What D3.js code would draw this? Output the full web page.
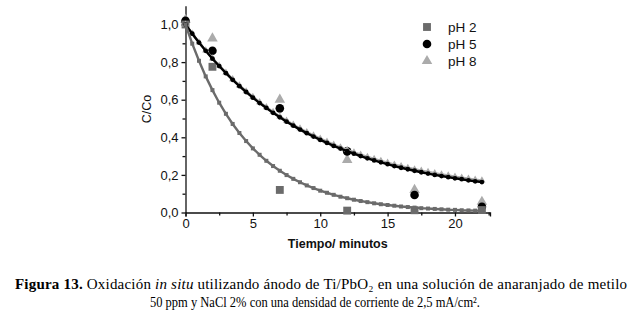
<!DOCTYPE html>
<html>
<head>
<meta charset="utf-8">
<script src="https://cdn.jsdelivr.net/npm/d3@7"></script>
<style>
  body { margin: 0; background: #fff; }
  svg { display: block; }
  .axis text { font-family: "Liberation Sans", Arial, sans-serif; font-size: 13px; fill: #111; }
  .axis path, .axis line { stroke: #111; stroke-width: 1.3; }
  .cap { font-family: "Liberation Serif", "Times New Roman", serif; font-size: 15px; fill: #000; }
</style>
</head>
<body>
<div id="chart"></div>
<script>
// measured points (C/Co vs time in minutes)
const times = [0, 2, 7, 12, 17, 22]
const ph2 = [1.00, 0.775, 0.12, 0.01, 0.012, 0.013]
const ph5 = [1.02, 0.86, 0.554, 0.325, 0.093, 0.031]
const ph8 = [1.025, 0.926, 0.60, 0.28, 0.12, 0.057]

// fitted curves, read every half minute
const fitTimes = d3.range(0, 22.01, 0.5)
const fit2 = [1.000, 0.898, 0.807, 0.724, 0.651, 0.584, 0.525, 0.471, 0.423, 0.380,
    0.341, 0.307, 0.275, 0.247, 0.222, 0.199, 0.179, 0.161, 0.144, 0.130,
    0.116, 0.105, 0.094, 0.084, 0.076, 0.068, 0.061, 0.055, 0.049, 0.044,
    0.040, 0.036, 0.032, 0.029, 0.026, 0.023, 0.021, 0.019, 0.017, 0.015,
    0.014, 0.012, 0.011, 0.010, 0.009]
const fit5 = [1.000, 0.951, 0.904, 0.860, 0.818, 0.779, 0.741, 0.706, 0.672, 0.641,
    0.611, 0.582, 0.556, 0.530, 0.506, 0.483, 0.462, 0.441, 0.422, 0.404,
    0.386, 0.370, 0.354, 0.340, 0.326, 0.313, 0.300, 0.288, 0.277, 0.267,
    0.257, 0.247, 0.238, 0.230, 0.222, 0.214, 0.207, 0.200, 0.194, 0.188,
    0.182, 0.177, 0.171, 0.166, 0.162]
const fit8 = [1.000, 0.951, 0.905, 0.862, 0.820, 0.781, 0.744, 0.709, 0.676, 0.645,
    0.615, 0.587, 0.560, 0.535, 0.511, 0.489, 0.467, 0.447, 0.428, 0.410,
    0.393, 0.377, 0.361, 0.347, 0.333, 0.320, 0.308, 0.296, 0.285, 0.275,
    0.265, 0.255, 0.247, 0.238, 0.230, 0.223, 0.216, 0.209, 0.203, 0.197,
    0.191, 0.185, 0.180, 0.175, 0.171]

const legendLabels = ["pH 2", "pH 5", "pH 8"]
const xTicks = [0, 5, 10, 15, 20]
const yTicks = [0, 0.2, 0.4, 0.6, 0.8, 1.0]

const W = 630, H = 313
const margin = {top: 5.7, left: 185.5, right: 140, bottom: 100.5}

const svg = d3.select("#chart").append("svg")
    .attr("width", W)
    .attr("height", H)
    .attr("viewBox", [0, 0, W, H])

svg.append("rect").attr("width", W).attr("height", H).attr("fill", "#fff")

const x = d3.scaleLinear().domain([0, 22.6]).range([margin.left, W - margin.right])
const y = d3.scaleLinear().domain([0, 1.1]).range([H - margin.bottom, margin.top])

// axes, minor ticks first
svg.append("g")
    .attr("class", "axis")
    .attr("transform", `translate(0,${y(0)})`)
    .call(d3.axisBottom(x).tickValues(d3.range(2.5, 22.6, 5)).tickSize(3).tickFormat(""))
    .select(".domain").remove()
svg.append("g")
    .attr("class", "axis")
    .attr("transform", `translate(0,${y(0)})`)
    .call(d3.axisBottom(x).tickValues(xTicks).tickSize(4).tickSizeOuter(4).tickPadding(2).tickFormat(d3.format("d")))

svg.append("g")
    .attr("class", "axis")
    .attr("transform", `translate(${x(0)},0)`)
    .call(d3.axisLeft(y).tickValues(d3.range(0.1, 1.1, 0.2)).tickSize(3).tickFormat(""))
    .select(".domain").remove()
svg.append("g")
    .attr("class", "axis")
    .attr("transform", `translate(${x(0)},0)`)
    .call(d3.axisLeft(y).tickValues(yTicks).tickSize(4).tickSizeOuter(0).tickPadding(3)
        .tickFormat(d => d3.format(".1f")(d).replace(".", ",")))

// axis titles
svg.append("text")
    .attr("transform", `translate(151,${y(0.55)}) rotate(-90)`)
    .attr("text-anchor", "middle")
    .attr("font-family", "Liberation Sans, Arial, sans-serif")
    .attr("font-size", 12.5)
    .attr("fill", "#111")
    .text("C/Co")

svg.append("text")
    .attr("x", x(11.3))
    .attr("y", 248)
    .attr("text-anchor", "middle")
    .attr("font-family", "Liberation Sans, Arial, sans-serif")
    .attr("font-size", 12.5)
    .attr("font-weight", "bold")
    .attr("fill", "#111")
    .text("Tiempo/ minutos")

const series = [
    {fit: fit8, pts: ph8, shape: d3.symbolTriangle, color: "#ababab", big: 48, small: 22},
    {fit: fit5, pts: ph5, shape: d3.symbolCircle, color: "#000000", big: 58, small: 18},
    {fit: fit2, pts: ph2, shape: d3.symbolSquare, color: "#6b6b6b", big: 62, small: 16}
]

const line = d3.line().x((d, i) => x(fitTimes[i])).y(d => y(d))

// measured points
for (let s of series) {
    svg.append("g")
        .selectAll("path")
        .data(s.pts)
        .join("path")
        .attr("transform", (d, i) => `translate(${x(times[i])},${y(d)})`)
        .attr("fill", s.color)
        .attr("d", d3.symbol(s.shape, s.big))
}

// fitted curves
for (let s of series) {
    svg.append("path")
        .datum(s.fit)
        .attr("fill", "none")
        .attr("stroke", s.color)
        .attr("stroke-width", 2.4)
        .attr("d", line)
    svg.append("g")
        .selectAll("path")
        .data(s.fit)
        .join("path")
        .attr("transform", (d, i) => `translate(${x(fitTimes[i])},${y(d)})`)
        .attr("fill", s.color)
        .attr("d", d3.symbol(s.shape, s.small))
}

// legend
const legendOrder = [series[2], series[1], series[0]]
const legend = svg.append("g")
legend.selectAll("path")
    .data(legendOrder)
    .join("path")
    .attr("transform", (d, i) => `translate(427,${27 + i * 17})`)
    .attr("fill", d => d.color)
    .attr("d", d => d3.symbol(d.shape, d.big)())
legend.selectAll("text")
    .data(legendLabels)
    .join("text")
    .attr("x", 448)
    .attr("y", (d, i) => 27 + i * 17)
    .attr("dy", "0.36em")
    .attr("font-family", "Liberation Sans, Arial, sans-serif")
    .attr("font-size", 13.5)
    .attr("fill", "#111")
    .text(d => d)

// caption
const cap1 = svg.append("text").attr("class", "cap").attr("x", 15).attr("y", 289)
    .attr("textLength", 612).attr("lengthAdjust", "spacing")
cap1.append("tspan").attr("font-weight", "bold").text("Figura 13.")
cap1.append("tspan").text(" Oxidación ")
cap1.append("tspan").attr("font-style", "italic").text("in situ")
cap1.append("tspan").text(" utilizando ánodo de Ti/PbO₂ en una solución de anaranjado de metilo")

svg.append("text").attr("class", "cap").attr("x", 315).attr("y", 307)
    .attr("text-anchor", "middle")
    .attr("font-size", 14)
    .attr("textLength", 330).attr("lengthAdjust", "spacingAndGlyphs")
    .text("50 ppm y NaCl 2% con una densidad de corriente de 2,5 mA/cm².")
</script>
</body>
</html>
